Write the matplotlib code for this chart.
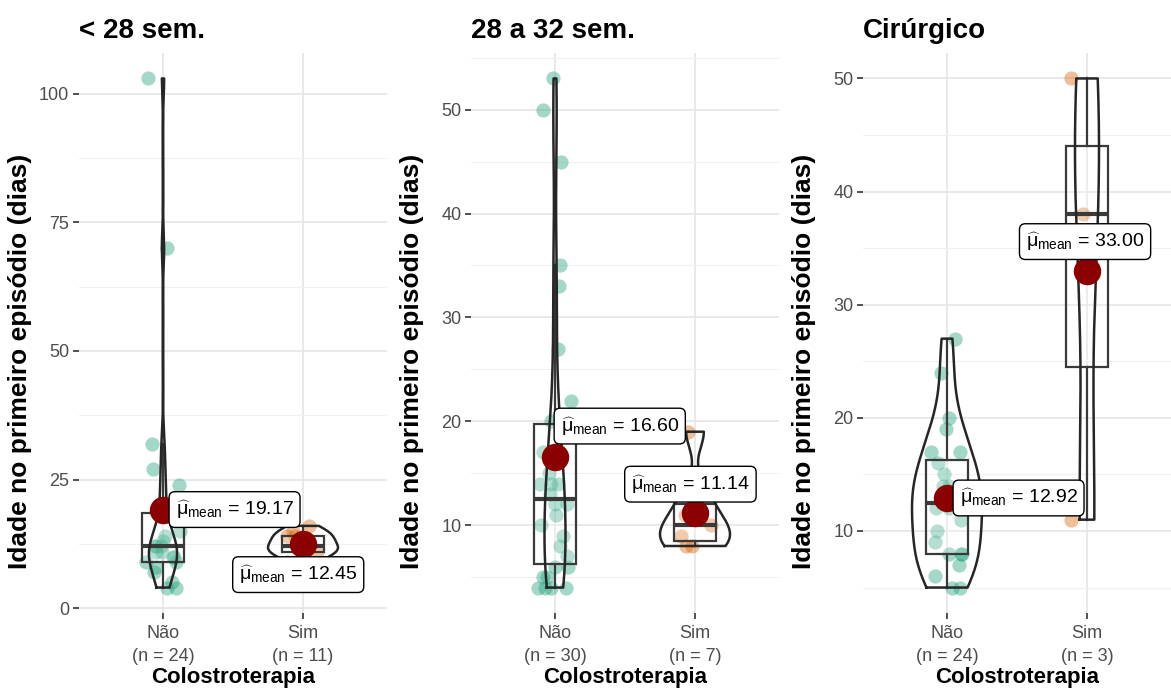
import numpy as np
import matplotlib
matplotlib.use('Agg')
import matplotlib.pyplot as plt
from matplotlib.ticker import MultipleLocator

plt.rcParams['font.family'] = ['Liberation Sans', 'DejaVu Sans']
plt.rcParams['mathtext.fontset'] = 'custom'
plt.rcParams['mathtext.rm'] = 'Liberation Sans'
plt.rcParams['mathtext.it'] = 'Liberation Sans:italic'
plt.rcParams['mathtext.bf'] = 'Liberation Sans:bold'

# data (days at first episode)
titles = ['< 28 sem.', '28 a 32 sem.', 'Cirúrgico']
groups = ['Não', 'Sim']

lt28_nao = [4, 4, 5, 7, 8, 9, 9, 10, 10, 11, 11, 12, 12, 12, 13, 14, 15, 18, 20, 24, 27, 32, 70, 103]
lt28_sim = [9, 10, 11, 11, 12, 12, 13, 14, 14, 15, 16]
s2832_nao = [4, 4, 4, 4, 5, 5, 6, 6, 7, 8, 9, 10, 11, 12, 12, 13, 14, 14, 14, 15, 17, 19,
             20, 22, 27, 33, 35, 45, 50, 53]
s2832_sim = [8, 8, 9, 10, 11, 13, 19]
cir_nao = [5, 5, 6, 7, 8, 8, 8, 9, 10, 11, 12, 12, 13, 13, 14, 14, 15, 16, 17, 17, 19, 20, 24, 27]
cir_sim = [11, 38, 50]

panels = [(lt28_nao, lt28_sim), (s2832_nao, s2832_sim), (cir_nao, cir_sim)]

# tick settings per panel
major_step = [25, 10, 10]

# label offsets (points) for the mean labels, per panel and group
label_offsets = [[(9, 0), (-46, -22)], [(4, 22), (-46, 21)], [(9, 0), (-44, 21)]]

colors = ['#1B9E77', '#D95F02']
lefts = [79, 471, 863]
W, H = 1171, 691


def nrd0(x):
    x = np.asarray(x, float)
    sd = x.std(ddof=1)
    iqr = np.subtract(*np.percentile(x, [75, 25]))
    lo = min(sd, iqr / 1.34) if iqr > 0 else sd
    return 0.9 * lo * len(x) ** (-0.2)


def kde(x, grid):
    x = np.asarray(x, float)
    bw = nrd0(x)
    d = np.exp(-0.5 * ((grid[:, None] - x[None, :]) / bw) ** 2).sum(axis=1)
    return d / (len(x) * bw * np.sqrt(2 * np.pi))


fig = plt.figure(figsize=(W / 100, H / 100), dpi=100)
rng = np.random.default_rng(7)

for k, (title, data) in enumerate(zip(titles, panels)):
    ax = fig.add_axes([lefts[k] / W, (H - 613) / H, 308 / W, 560 / H])
    allv = np.concatenate([np.asarray(d, float) for d in data])
    lo, hi = allv.min(), allv.max()
    pad = (hi - lo) * 0.05
    ax.set_ylim(lo - pad, hi + pad)
    ax.set_xlim(0.4, 2.6)

    # points
    for i, vals in enumerate(data):
        xj = i + 1 + rng.uniform(-0.12, 0.12, len(vals))
        ax.scatter(xj, vals, s=105, color=colors[i], alpha=0.4, linewidths=0, zorder=2)

    # boxplots
    ax.boxplot(data, positions=[1, 2], widths=0.3, showfliers=False, patch_artist=True,
               boxprops=dict(facecolor=(1, 1, 1, 0.2), edgecolor='#3a3a3a', linewidth=1.6),
               whiskerprops=dict(color='#3a3a3a', linewidth=1.6),
               capprops=dict(linewidth=0),
               medianprops=dict(color='#3a3a3a', linewidth=3), zorder=3)

    # violins (scale = area)
    dens = []
    for vals in data:
        grid = np.linspace(min(vals), max(vals), 512)
        dens.append((grid, kde(vals, grid)))
    dmax = max(d.max() for _, d in dens)
    for i, (grid, d) in enumerate(dens):
        hw = d / dmax * 0.25
        xs = np.concatenate([i + 1 - hw, (i + 1 + hw)[::-1], [i + 1 - hw[0]]])
        ys = np.concatenate([grid, grid[::-1], [grid[0]]])
        ax.plot(xs, ys, color='#262626', linewidth=1.8, zorder=4)

    # means + labels
    for i, vals in enumerate(data):
        m = np.mean(vals)
        ax.scatter([i + 1], [m], s=390, color='#8B0000', zorder=5, linewidths=0)
        dx, dy = label_offsets[k][i]
        ax.annotate(r'$\widehat{\mathrm{μ}}_{\mathrm{mean}}$' + ' = %.2f' % m, xy=(i + 1, m),
                    xytext=(dx, dy), textcoords='offset points', ha='left', va='center',
                    fontsize=14, color='black', zorder=6,
                    bbox=dict(boxstyle='round,pad=0.33,rounding_size=0.3', fc='white',
                              ec='black', lw=1.0))

    # axes styling
    ax.yaxis.set_major_locator(MultipleLocator(major_step[k]))
    ax.yaxis.set_minor_locator(MultipleLocator(major_step[k] / 2))
    ax.set_xticks([1, 2])
    ax.set_xticklabels(['%s\n(n = %d)' % (g, len(v)) for g, v in zip(groups, data)],
                       linespacing=1.45)
    ax.grid(True, which='major', color='#E5E5E5', linewidth=1.2, zorder=0)
    ax.grid(True, which='minor', axis='y', color='#F0F0F0', linewidth=0.8, zorder=0)
    ax.set_axisbelow(True)
    for s in ax.spines.values():
        s.set_visible(False)
    ax.tick_params(axis='both', which='major', length=4, width=1.2, color='#333333',
                   labelcolor='#4D4D4D', labelsize=13, pad=3)
    ax.tick_params(axis='x', which='major', pad=5)
    ax.tick_params(axis='y', which='minor', length=0)
    ax.set_ylabel('Idade no primeiro episódio (dias)', fontsize=19, fontweight='bold')
    ax.yaxis.set_label_coords(-0.153, 0.45)
    ax.set_xlabel('Colostroterapia', fontsize=16, fontweight='bold', labelpad=1)
    ax.set_title(title, loc='left', fontsize=20, fontweight='bold', pad=11)

fig.savefig('out.png', dpi=100)
